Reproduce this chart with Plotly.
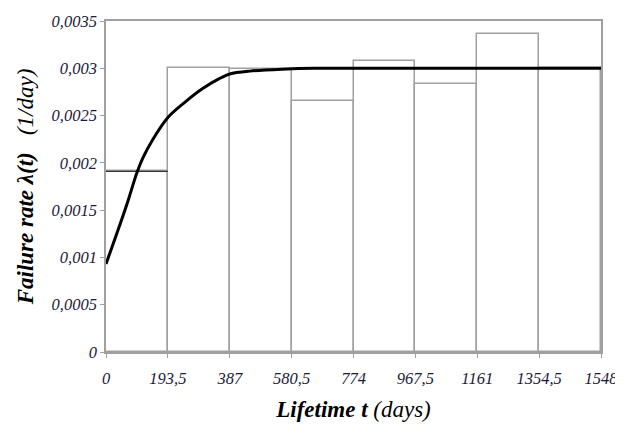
import plotly.graph_objects as go

# Histogram bins (days) and empirical failure rate per bin
bin_edges = [0, 193.5, 387, 580.5, 774, 967.5, 1161, 1354.5, 1548]
bin_rates = [0.00191, 0.00300, 0.00299, 0.00265, 0.00308, 0.00283, 0.00336, 0.00300]

# Fitted failure rate curve lambda(t)
curve_t = [0, 44, 70, 95, 115, 145, 193.5, 250, 300, 354, 387, 450, 550, 650, 774, 967.5, 1161, 1354.5, 1548]
curve_l = [0.00093, 0.00135, 0.00161, 0.00188, 0.00205, 0.00224, 0.00248, 0.00265, 0.00278, 0.00289, 0.00294, 0.00297, 0.00299, 0.00300, 0.00300, 0.00300, 0.00300, 0.00300, 0.00300]

x_ticks = [0, 193.5, 387, 580.5, 774, 967.5, 1161, 1354.5, 1548]
x_tick_labels = ["0", "193,5", "387", "580,5", "774", "967,5", "1161", "1354,5", "1548"]
y_ticks = [0, 0.0005, 0.001, 0.0015, 0.002, 0.0025, 0.003, 0.0035]
y_tick_labels = ["0", "0,0005", "0,001", "0,0015", "0,002", "0,0025", "0,003", "0,0035"]

centers = [(a + b) / 2 for a, b in zip(bin_edges[:-1], bin_edges[1:])]
widths = [b - a for a, b in zip(bin_edges[:-1], bin_edges[1:])]

txt = "#1a1a3a"
serif = "Liberation Serif, Times New Roman, serif"
fig = go.Figure()
fig.add_trace(go.Bar(
    x=centers, y=bin_rates, width=widths,
    marker=dict(color="rgba(0,0,0,0)", line=dict(color="#a0a0a0", width=1.5)),
    showlegend=False, hoverinfo="skip",
))
# first bin top drawn darker like the reference
fig.add_trace(go.Scatter(
    x=[bin_edges[0], bin_edges[1]], y=[bin_rates[0], bin_rates[0]],
    mode="lines", line=dict(color="#333333", width=1.2), showlegend=False,
))
fig.add_trace(go.Scatter(
    x=curve_t, y=curve_l, mode="lines",
    line=dict(color="black", width=3, shape="spline", smoothing=0.9),
    showlegend=False,
))

font_tick = dict(family=serif, size=16.5, color=txt, style="italic")
title_font = dict(family=serif, size=23, color="black")
# page body has an 8px margin, so the figure is sized to fit inside 623x424
fig.update_layout(
    width=615, height=416,
    margin=dict(l=98, r=22, t=13, b=72),
    paper_bgcolor="white", plot_bgcolor="white",
    font=dict(family=serif),
    bargap=0,
    xaxis=dict(
        range=[0, 1548], tickvals=x_ticks, ticktext=x_tick_labels,
        showgrid=False, zeroline=False, automargin=False,
        showline=True, linecolor="#a0a0a0", linewidth=1.5, mirror=True,
        ticks="outside", ticklen=4, tickcolor="#a0a0a0",
        ticklabelstandoff=6,
        tickfont=font_tick,
        title=dict(text="<b><i>Lifetime t</i></b> <i>(days)</i>",
                   font=title_font, standoff=14),
    ),
    yaxis=dict(
        range=[0, 0.0035], tickvals=y_ticks, ticktext=y_tick_labels,
        showgrid=False, zeroline=False, automargin=False,
        showline=True, linecolor="#a0a0a0", linewidth=1.5, mirror=True,
        ticks="outside", ticklen=4, tickcolor="#a0a0a0",
        tickfont=font_tick,
        title=dict(text="<b><i>Failure rate λ(t)</i></b>   <i>(1/day)</i>",
                   font=title_font, standoff=12),
    ),
)
fig.write_html("out.html")
